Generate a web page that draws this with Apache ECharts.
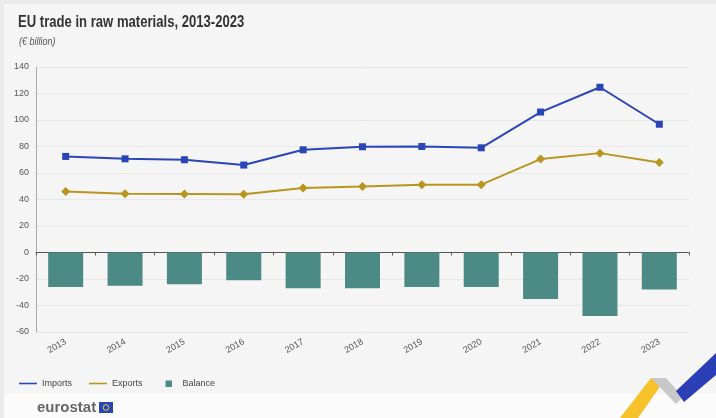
<!DOCTYPE html>
<html><head><meta charset="utf-8">
<script src="https://cdn.jsdelivr.net/npm/echarts@6/dist/echarts.min.js"></script>
<style>html,body{margin:0;padding:0;background:#ebebeb}#c{width:716px;height:418px}</style>
</head><body><div id="c"></div>
<script>
var years = ['2013','2014','2015','2016','2017','2018','2019','2020','2021','2022','2023'];
var imports = [72.5, 70.7, 70, 66, 77.5, 79.8, 80, 79, 106, 124.7, 96.8];
var exports = [46.1, 44.4, 44.2, 43.9, 48.7, 49.9, 51.2, 51.2, 70.5, 75, 68];
var balance = [-26, -25, -24, -21, -27, -27, -26, -26, -35, -48, -28];
var yTicks = [-60, -40, -20, 0, 20, 40, 60, 80, 100, 120, 140];

var FONT = '"Liberation Sans", Arial, sans-serif';
var chart = echarts.init(document.getElementById('c'));
chart.setOption({
  animation: false,
  backgroundColor: '#ebebeb',
  graphic: [
    {type:'rect', shape:{x:4,y:4,width:712,height:392}, style:{fill:'#f5f5f5'}, z:-10},
    {type:'rect', shape:{x:4,y:394,width:712,height:24}, style:{fill:'#fbfbfb'}, z:-10},
    {type:'text', x:18, y:14, scaleX:0.77, style:{x:0, y:0, text:'EU trade in raw materials, 2013-2023', font:'bold 17px ' + FONT, fill:'#333'}},
    {type:'text', x:19, y:37, scaleX:0.9, style:{x:0, y:0, text:'(€ billion)', font:'italic 10px ' + FONT, fill:'#555'}},
    {type:'text', x:37, y:400, style:{x:0, y:0, text:'eurostat', font:'bold 15px ' + FONT, fill:'#666'}},
    {type:'rect', shape:{x:99,y:402,width:14,height:11}, style:{fill:'#2646b8'}},
    {type:'circle', shape:{cx:106,cy:407.5,r:2.8}, style:{fill:'none', stroke:'#f4cf2a', lineWidth:1}},
    {type:'polygon', shape:{points:[[620,418],[651,378],[666,378],[638,418]]}, style:{fill:'#f6c22a'}},
    {type:'polygon', shape:{points:[[651,378],[666,378],[683,397],[676,404]]}, style:{fill:'#c8c8c8'}},
    {type:'polygon', shape:{points:[[676,391],[716,353],[716,375],[684,402]]}, style:{fill:'#2a3fb5'}}
  ],
  legend: {
    left: 14, top: 374, itemGap: 17, itemWidth: 18, itemHeight: 7,
    textStyle: {fontFamily: FONT, fontSize: 9, color: '#444'},
    data: [
      {name:'Imports', icon:'path://M0,3L18,3L18,4.6L0,4.6Z'},
      {name:'Exports', icon:'path://M0,3L18,3L18,4.6L0,4.6Z'},
      {name:'Balance', icon:'path://M0,0L0.01,0L0.01,0.01Z M6,0.5L12.5,0.5L12.5,7L6,7Z M18,7L18.01,7L18.01,6.99Z'}
    ]
  },
  grid: {left: 36, right: 27, top: 67, bottom: 86},
  xAxis: {
    type: 'category', data: years,
    axisLine: {onZero: true, lineStyle: {color: '#555', width: 1}},
    axisTick: {show: true, alignWithLabel: false, length: 3, lineStyle:{color:'#555'}},
    axisLabel: {rotate: 30, fontFamily: FONT, fontSize: 9, color: '#555', margin: 9}
  },
  yAxis: {
    type: 'value', min: -60, max: 140, interval: 20,
    axisLine: {show: true, lineStyle: {color: '#aaa'}},
    axisTick: {show: false},
    axisLabel: {fontFamily: FONT, fontSize: 9, color: '#555', margin: 7},
    splitLine: {lineStyle: {color: '#e8e8e8'}}
  },
  series: [
    {name:'Imports', type:'line', data: imports, color:'#2a45b8', symbol:'rect', symbolSize:7,
     lineStyle:{width:2}, itemStyle:{color:'#2a45b8'}, z:5},
    {name:'Exports', type:'line', data: exports, color:'#b8961e', symbol:'diamond', symbolSize:9,
     lineStyle:{width:2}, itemStyle:{color:'#b8961e'}, z:5},
    {name:'Balance', type:'bar', data: balance, color:'#4b8a85', barWidth: 35,
     itemStyle:{color:'#4b8a85'}}
  ]
});
</script></body></html>
